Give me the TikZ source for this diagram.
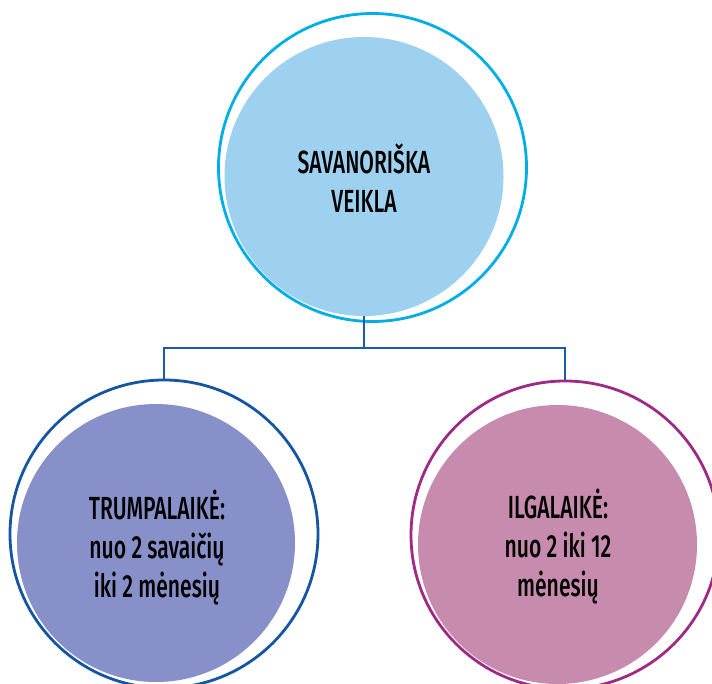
\documentclass[tikz,border=0pt]{standalone}
\usepackage{fontspec}
\setmainfont[FakeStretch=0.66]{Fira Sans Medium}
\definecolor{ringtop}{HTML}{00ADE6}
\definecolor{filltop}{HTML}{9ED1F0}
\definecolor{ringleft}{HTML}{1556A3}
\definecolor{fillleft}{HTML}{8790C8}
\definecolor{ringright}{HTML}{9E2A86}
\definecolor{fillright}{HTML}{C78BAE}
\definecolor{connc}{HTML}{1B5CA8}
\begin{document}
\begin{tikzpicture}[x=1pt,y=-1pt,
  ring/.style={circle, line width=2.8pt, inner sep=0pt, fill=white},
  disc/.style={circle, draw=none, inner sep=0pt},
  lbl/.style={align=center, font=\fontsize{32}{39}\selectfont, text=black},
  conn/.style={draw=connc, line width=2.8pt}]
\useasboundingbox (0,0) rectangle (712,684);
% top
\node[ring, draw=ringtop, minimum size=308pt] (topring) at (372.5,167.5) {};
\node[disc, fill=filltop, minimum size=279pt] (top) at (364,176.5) {};
\node[lbl] (toptext) at (364,178.5) {SAVANORIŠKA\\VEIKLA};
% left
\node[ring, draw=ringleft, minimum size=308pt] (leftring) at (164,534) {};
\node[disc, fill=fillleft, minimum size=278pt] (left) at (156,543) {};
\node[lbl] (lefttext) at (157,548) {TRUMPALAIKĖ:\\nuo 2 savaičių\\iki 2 mėnesių};
% right
\node[ring, draw=ringright, minimum size=308pt] (rightring) at (565,535) {};
\node[disc, fill=fillright, minimum size=279pt] (right) at (557.5,544.5) {};
\node[lbl] (righttext) at (558,547) {ILGALAIKĖ:\\nuo 2 iki 12\\mėnesių};
% connectors
\coordinate (junction) at (364,348);
\draw[conn] (top.south) -- (junction);
\draw[conn] (leftring.north) |- (junction) -| (rightring.north);
\end{tikzpicture}
\end{document}
